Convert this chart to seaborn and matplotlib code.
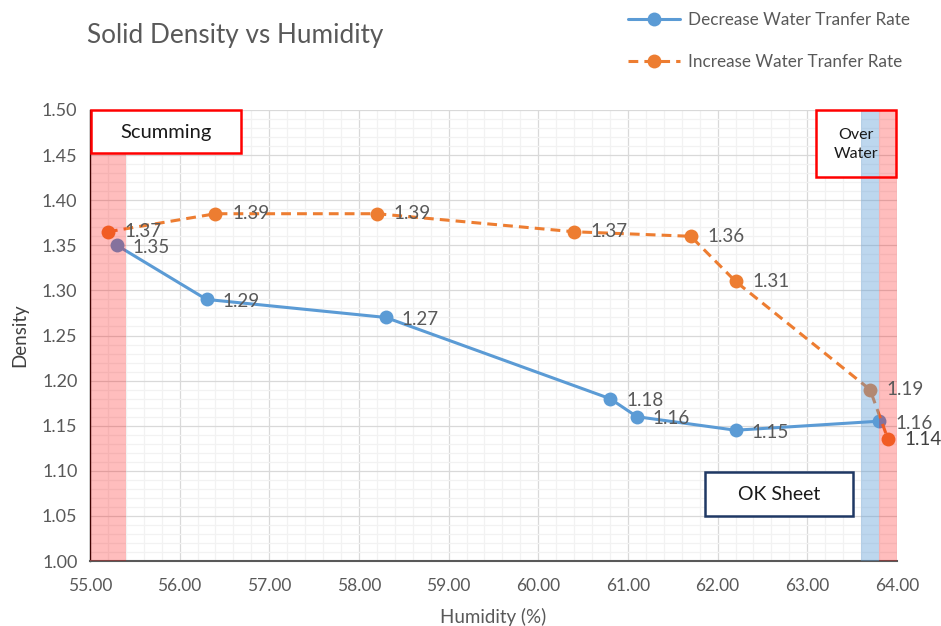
import matplotlib
matplotlib.use("Agg")
import matplotlib.pyplot as plt
import seaborn as sns
import pandas as pd
from matplotlib.ticker import MultipleLocator, FormatStrFormatter
from matplotlib.patches import Rectangle

# ---- data ----
dec_humidity = [55.3, 56.3, 58.3, 60.8, 61.1, 62.2, 63.8]
dec_density = [1.35, 1.29, 1.27, 1.18, 1.16, 1.145, 1.155]
dec_labels = ["1.35", "1.29", "1.27", "1.18", "1.16", "1.15", "1.16"]

inc_humidity = [55.2, 56.4, 58.2, 60.4, 61.7, 62.2, 63.7, 63.9]
inc_density = [1.365, 1.385, 1.385, 1.365, 1.36, 1.31, 1.19, 1.135]
inc_labels = ["1.37", "1.39", "1.39", "1.37", "1.36", "1.31", "1.19", "1.14"]

series_names = ["Decrease Water Tranfer Rate", "Increase Water Tranfer Rate"]
title = "Solid Density vs Humidity"
x_label = "Humidity (%)"
y_label = "Density"
zones = [(55.0, 55.4, "red"), (63.6, 63.8, "blue"), (63.8, 64.0, "red")]
box_texts = ["Scumming", "Over\nWater", "OK Sheet"]

sns.set_style("white")
plt.rcParams['font.family'] = ['Lato', 'DejaVu Sans']

BLUE = "#5B9BD5"
ORANGE = "#ED7D31"
GRAY = "#595959"

fig = plt.figure(figsize=(9.41, 6.26), dpi=100)
ax = fig.add_axes([0.0956, 0.1038, 0.8576, 0.7205])

df_dec = pd.DataFrame({"x": dec_humidity, "y": dec_density})
df_inc = pd.DataFrame({"x": inc_humidity, "y": inc_density})

sns.lineplot(data=df_dec, x="x", y="y", ax=ax, sort=False, color=BLUE,
             linewidth=2.2, marker="o", markersize=9, markeredgewidth=0,
             label=series_names[0], zorder=3)
sns.lineplot(data=df_inc, x="x", y="y", ax=ax, sort=False, color=ORANGE,
             linewidth=2.2, marker="o", markersize=9, markeredgewidth=0,
             label=series_names[1], zorder=3)
ax.lines[1].set_linestyle((0, (3.2, 2)))

# shaded zones on top (semi-transparent)
for x0, x1, c in zones:
    if c == "red":
        ax.axvspan(x0, x1, color=(1.0, 0.0, 0.0), alpha=0.26, lw=0, zorder=4)
    else:
        ax.axvspan(x0, x1, color=BLUE, alpha=0.4, lw=0, zorder=4)

# data labels
for xv, yv, t in zip(dec_humidity, dec_density, dec_labels):
    ax.annotate(t, (xv, yv), xytext=(11.5, -1.5), textcoords="offset points",
                ha="left", va="center", fontsize=13.5, color=GRAY, zorder=5)
for i, (xv, yv, t) in enumerate(zip(inc_humidity, inc_density, inc_labels)):
    last = i == len(inc_labels) - 1
    ax.annotate(t, (xv, yv), xytext=(12, 0), textcoords="offset points",
                ha="left", va="center", fontsize=13.5,
                color="#404040" if last else GRAY, zorder=5)

ax.set_xlim(55, 64)
ax.set_ylim(1.0, 1.5)
ax.xaxis.set_major_locator(MultipleLocator(1))
ax.xaxis.set_minor_locator(MultipleLocator(0.2))
ax.yaxis.set_major_locator(MultipleLocator(0.05))
ax.yaxis.set_minor_locator(MultipleLocator(0.01))
ax.xaxis.set_major_formatter(FormatStrFormatter("%.2f"))
ax.yaxis.set_major_formatter(FormatStrFormatter("%.2f"))
ax.grid(which="major", color="#D9D9D9", linewidth=0.9, zorder=0)
ax.grid(which="minor", color="#F2F2F2", linewidth=0.9, zorder=0)
ax.set_axisbelow(True)

for s in ["top", "right"]:
    ax.spines[s].set_visible(False)
ax.spines["left"].set_color("#000000")
ax.spines["bottom"].set_color("#595959")
ax.spines["left"].set_linewidth(1.0)
ax.spines["bottom"].set_linewidth(1.5)
ax.tick_params(axis="x", which="major", direction="out", length=6, width=1,
               color="#595959", labelsize=12.5, labelcolor=GRAY, pad=6)
ax.tick_params(axis="x", which="minor", direction="out", length=4, width=1,
               color="#595959")
ax.tick_params(axis="y", which="major", direction="out", length=5, width=1,
               color="#000000", labelsize=13, labelcolor=GRAY, pad=4)
ax.tick_params(axis="y", which="minor", length=0)

ax.set_xlabel(x_label, fontsize=13.5, color=GRAY, labelpad=10)
ax.set_ylabel(y_label, fontsize=13.5, color="#404040", labelpad=10)

fig.text(0.0925, 0.943, title, fontsize=18.8, color=GRAY, ha="left", va="center")

# annotation boxes
ax.add_patch(Rectangle((55.01, 1.452), 1.67, 0.048, transform=ax.transData,
                       fill=True, facecolor="white", edgecolor="#FF0000",
                       linewidth=1.8, zorder=6, clip_on=False))
ax.text(55.85, 1.475, box_texts[0], fontsize=14.5, color="#1a1a1a",
        ha="center", va="center", zorder=7)

ax.add_patch(Rectangle((63.1, 1.426), 0.89, 0.074, transform=ax.transData,
                       fill=False, edgecolor="#FF0000",
                       linewidth=1.8, zorder=6, clip_on=False))
ax.add_patch(Rectangle((63.1, 1.426), 0.5, 0.074, transform=ax.transData,
                       fill=True, facecolor="white", edgecolor="none",
                       zorder=5.5))
ax.text(63.54, 1.462, box_texts[1], fontsize=11.5, color="#1a1a1a",
        ha="center", va="center", zorder=7, linespacing=1.45)

ax.add_patch(Rectangle((61.86, 1.05), 1.65, 0.0487, transform=ax.transData,
                       fill=True, facecolor="white", edgecolor="#1F3864",
                       linewidth=1.8, zorder=6))
ax.text(62.685, 1.074, box_texts[2], fontsize=14, color="#1a1a1a",
        ha="center", va="center", zorder=7)

ax.get_legend().remove()
handles, labels = ax.get_legend_handles_labels()
for h in handles:
    h.set_markersize(10)
fig.legend(handles, labels, loc="upper left", bbox_to_anchor=(0.651, 1.005),
           frameon=False, fontsize=12.3, labelcolor=GRAY, handlelength=3.05,
           handletextpad=0.47, labelspacing=1.48)

fig.savefig("out.png", dpi=100)
